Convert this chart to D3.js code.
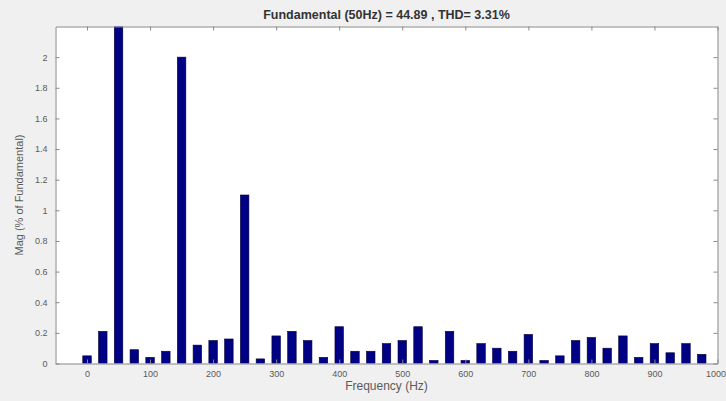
<!DOCTYPE html>
<html>
<head>
<meta charset="utf-8">
<script src="https://cdn.jsdelivr.net/npm/d3@7"></script>
<style>
  html, body { margin: 0; padding: 0; background: #f0f0f0; }
  svg { display: block; font-family: "Liberation Sans", Arial, sans-serif; }
</style>
</head>
<body>
<svg id="chart" width="726" height="401"></svg>
<script>
// Harmonic spectrum: frequency bins (Hz) and magnitude (% of fundamental)
const frequencies = [0, 25, 50, 75, 100, 125, 150, 175, 200, 225,
                     250, 275, 300, 325, 350, 375, 400, 425, 450, 475,
                     500, 525, 550, 575, 600, 625, 650, 675, 700, 725,
                     750, 775, 800, 825, 850, 875, 900, 925, 950, 975];
const magnitudes  = [0.05, 0.21, 100, 0.09, 0.04, 0.08, 2.00, 0.12, 0.15, 0.16,
                     1.10, 0.03, 0.18, 0.21, 0.15, 0.04, 0.24, 0.08, 0.08, 0.13,
                     0.15, 0.24, 0.02, 0.21, 0.02, 0.13, 0.10, 0.08, 0.19, 0.02,
                     0.05, 0.15, 0.17, 0.10, 0.18, 0.04, 0.13, 0.07, 0.13, 0.06];
const xTicks = [0, 100, 200, 300, 400, 500, 600, 700, 800, 900, 1000];
const yTicks = [0, 0.2, 0.4, 0.6, 0.8, 1, 1.2, 1.4, 1.6, 1.8, 2];
const xLimits = [-50, 1000];
const yLimits = [0, 2.2];
const titleText = "Fundamental (50Hz) = 44.89 , THD= 3.31%";
const xLabelText = "Frequency (Hz)";
const yLabelText = "Mag (% of Fundamental)";

const svg = d3.select("#chart");
const W = 726, H = 401;
const box = { left: 55.5, right: 717.5, top: 26.5, bottom: 363.5 };

svg.append("rect").attr("width", W).attr("height", H).attr("fill", "#f0f0f0");

const x = d3.scaleLinear().domain(xLimits).range([box.left, box.right]);
const y = d3.scaleLinear().domain(yLimits).range([box.bottom, box.top]);

// plot area
svg.append("rect")
  .attr("x", box.left).attr("y", box.top)
  .attr("width", box.right - box.left).attr("height", box.bottom - box.top)
  .attr("fill", "#ffffff");

svg.append("clipPath").attr("id", "plotClip")
  .append("rect")
  .attr("x", box.left).attr("y", box.top)
  .attr("width", box.right - box.left).attr("height", box.bottom - box.top);

// bars (the fundamental runs off the top of the axes and is clipped)
const barWidthHz = 13.5;
const bars = frequencies.map((f, i) => ({ f, v: magnitudes[i] }));
svg.append("g").attr("clip-path", "url(#plotClip)")
  .selectAll("rect").data(bars).join("rect")
  .attr("x", d => x(d.f - barWidthHz / 2))
  .attr("width", d => x(d.f + barWidthHz / 2) - x(d.f - barWidthHz / 2))
  .attr("y", d => y(d.v))
  .attr("height", d => y(0) - y(d.v))
  .attr("fill", "#000085")
  .attr("stroke", "#00003a")
  .attr("stroke-width", 0.6);

// axes (ticks inside, boxed)
const axisColor = "#8a8a8a";
const textColor = "#5a5a5a";
const tickLen = 4;
const plainNum = d => String(+d.toFixed(1));

const xBottom = svg.append("g").attr("transform", `translate(0,${box.bottom})`)
  .call(d3.axisBottom(x).tickValues(xTicks).tickSizeInner(-tickLen).tickSizeOuter(0).tickPadding(7)
    .tickFormat(plainNum));
const xTop = svg.append("g").attr("transform", `translate(0,${box.top})`)
  .call(d3.axisTop(x).tickValues(xTicks).tickSizeInner(-tickLen).tickSizeOuter(0).tickFormat(""));
const yLeft = svg.append("g").attr("transform", `translate(${box.left},0)`)
  .call(d3.axisLeft(y).tickValues(yTicks).tickSizeInner(-tickLen).tickSizeOuter(0).tickPadding(8)
    .tickFormat(plainNum));
const yRight = svg.append("g").attr("transform", `translate(${box.right},0)`)
  .call(d3.axisRight(y).tickValues(yTicks).tickSizeInner(-tickLen).tickSizeOuter(0).tickFormat(""));

[xBottom, xTop, yLeft, yRight].forEach(g => {
  g.select(".domain").attr("stroke", axisColor);
  g.selectAll(".tick line").attr("stroke", axisColor);
  g.selectAll(".tick text").attr("fill", textColor).attr("font-size", 9)
    .attr("font-family", "'Liberation Sans', Arial, sans-serif");
});
// keep the last bottom label inside the figure edge
xBottom.selectAll(".tick text").filter(d => d === xLimits[1])
  .attr("text-anchor", "end").attr("dx", "0.9em");

// title and axis labels
svg.append("text")
  .attr("x", (box.left + box.right) / 2).attr("y", 19)
  .attr("text-anchor", "middle")
  .attr("font-size", 12.5).attr("font-weight", "bold").attr("fill", "#333")
  .text(titleText);

svg.append("text")
  .attr("x", (box.left + box.right) / 2).attr("y", 390)
  .attr("text-anchor", "middle")
  .attr("font-size", 12).attr("fill", textColor)
  .text(xLabelText);

svg.append("text")
  .attr("transform", `translate(23,${(box.top + box.bottom) / 2}) rotate(-90)`)
  .attr("text-anchor", "middle")
  .attr("font-size", 11).attr("fill", textColor)
  .text(yLabelText);
</script>
</body>
</html>
